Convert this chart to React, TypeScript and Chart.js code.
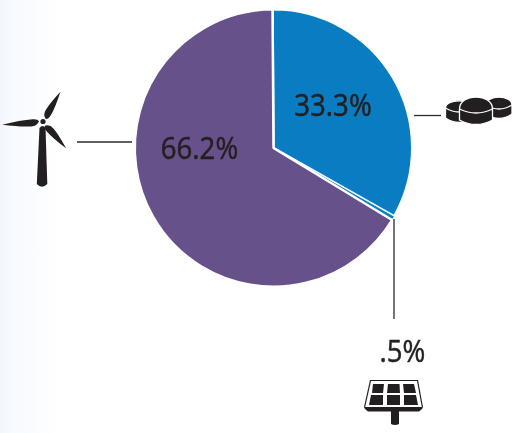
import React, { useEffect, useRef } from "react";
import { Chart, registerables } from "chart.js";

Chart.register(...registerables);

const categories = ["Hydro", "Solar", "Wind"];
const shares = [33.3, 0.5, 66.2];
const shareLabels = ["33.3%", ".5%", "66.2%"];
const colors = ["#0a7cc2", "#0a80c4", "#67518b"];

const FONT = '31px "Open Sans", sans-serif';
const INK = "#231f20";

function line(c: CanvasRenderingContext2D, x1: number, y1: number, x2: number, y2: number) {
  c.strokeStyle = "#2c2a2b";
  c.lineWidth = 1.3;
  c.beginPath();
  c.moveTo(x1, y1);
  c.lineTo(x2, y2);
  c.stroke();
}

function label(c: CanvasRenderingContext2D, text: string, cx: number, baseline: number) {
  c.save();
  c.translate(cx, baseline);
  c.scale(0.89, 1);
  c.fillStyle = INK;
  c.strokeStyle = INK;
  c.lineWidth = 0.5;
  c.font = FONT;
  c.textAlign = "center";
  c.textBaseline = "alphabetic";
  c.fillText(text, 0, 0);
  c.strokeText(text, 0, 0);
  c.restore();
}

function blade(c: CanvasRenderingContext2D, angle: number, len: number) {
  c.save();
  c.translate(43, 122);
  c.rotate(angle);
  c.beginPath();
  c.moveTo(4, 1);
  c.quadraticCurveTo(6, -3.8, 12, -3.6);
  c.quadraticCurveTo(len * 0.55, -3.6, len, 0);
  c.quadraticCurveTo(len * 0.55, 3.4, 10, 3.4);
  c.quadraticCurveTo(5, 3.4, 4, 1);
  c.closePath();
  c.fill();
  c.restore();
}

function turbine(c: CanvasRenderingContext2D) {
  c.fillStyle = INK;
  blade(c, Math.PI - 0.07, 41);
  blade(c, -1.05, 35);
  blade(c, 0.85, 35);
  c.beginPath();
  c.arc(43, 121.5, 2.6, 0, Math.PI * 2);
  c.fill();
  c.beginPath();
  c.moveTo(39.5, 128);
  c.quadraticCurveTo(42.5, 124, 45.5, 128);
  c.lineTo(47.3, 184);
  c.quadraticCurveTo(42, 189.5, 36.8, 184);
  c.closePath();
  c.fill();
}

function stone(c: CanvasRenderingContext2D, cx: number, cy: number, rx: number, ry: number, h: number) {
  c.beginPath();
  c.moveTo(cx - rx, cy);
  c.bezierCurveTo(cx - rx, cy - ry * 1.6, cx + rx, cy - ry * 1.6, cx + rx, cy);
  c.lineTo(cx + rx, cy + h);
  c.quadraticCurveTo(cx, cy + h + 9, cx - rx, cy + h);
  c.closePath();
  c.fillStyle = INK;
  c.strokeStyle = "#fff";
  c.lineWidth = 1.3;
  c.fill();
  c.stroke();
  c.beginPath();
  c.moveTo(cx - rx, cy);
  c.quadraticCurveTo(cx, cy + 8, cx + rx, cy);
  c.stroke();
}

function stones(c: CanvasRenderingContext2D) {
  stone(c, 459, 108, 13.5, 6, 10);
  stone(c, 499, 105, 13, 6.5, 9);
  stone(c, 476, 109, 16.5, 10, 11);
}

function panel(c: CanvasRenderingContext2D) {
  c.fillStyle = INK;
  c.beginPath();
  c.moveTo(370, 380);
  c.lineTo(418, 380);
  c.lineTo(423, 407);
  c.lineTo(422, 409);
  c.lineTo(419, 411.5);
  c.lineTo(368, 411.5);
  c.lineTo(365, 409);
  c.lineTo(364, 407);
  c.closePath();
  c.fill();
  c.beginPath();
  c.moveTo(391, 411);
  c.lineTo(399, 411);
  c.lineTo(399, 424);
  c.quadraticCurveTo(395, 426, 391, 424);
  c.closePath();
  c.fill();
  c.fillStyle = "#fff";
  c.beginPath();
  c.moveTo(371, 381);
  c.lineTo(417, 381);
  c.lineTo(421.8, 407);
  c.lineTo(365.2, 407);
  c.closePath();
  c.fill();
  c.fillStyle = INK;
  const cells: number[][] = [
    [373, 384, 384, 384, 383, 393, 372, 393],
    [388, 384, 399.5, 384, 400, 393, 387, 393],
    [403, 384, 414, 384, 416, 393, 404, 393],
    [371, 395, 383, 395, 383, 405, 369, 405],
    [387, 395, 400, 395, 400, 405, 387, 405],
    [404, 395, 416, 395, 418, 405, 404, 405],
  ];
  cells.forEach((p) => {
    c.beginPath();
    c.moveTo(p[0], p[1]);
    c.lineTo(p[2], p[3]);
    c.lineTo(p[4], p[5]);
    c.lineTo(p[6], p[7]);
    c.closePath();
    c.fill();
  });
}

const decorations = {
  id: "decorations",
  afterDraw(chart: Chart) {
    const c = chart.ctx;
    c.save();
    line(c, 77, 142, 132, 142);
    line(c, 414, 115.5, 441, 115.5);
    line(c, 394, 219, 394, 319);
    label(c, shareLabels[0], 333, 116);
    label(c, shareLabels[2], 199.5, 159);
    label(c, shareLabels[1], 402.5, 362);
    turbine(c);
    stones(c);
    panel(c);
    c.restore();
  },
};

export default function App() {
  const ref = useRef<HTMLCanvasElement>(null);
  useEffect(() => {
    const chart = new Chart(ref.current!, {
      type: "pie",
      data: {
        labels: categories,
        datasets: [{ data: shares, backgroundColor: colors, borderColor: "#ffffff", borderWidth: [2.5, 0.8, 2.5] }],
      },
      options: {
        animation: false,
        responsive: false,
        rotation: -0.4,
        layout: { padding: { left: 133, right: 100, top: 8, bottom: 145 } },
        plugins: { legend: { display: false }, tooltip: { enabled: false } },
      },
      plugins: [decorations],
    });
    return () => chart.destroy();
  }, []);
  return (
    <div
      style={{
        position: "fixed",
        left: 0,
        top: 0,
        width: 514,
        height: 433,
        background: "linear-gradient(to right, #f2f6fb 0px, #f7fafe 12px, #fbfdff 40px, #ffffff 60px)",
      }}
    >
      <canvas ref={ref} width={514} height={433} style={{ display: "block" }} />
    </div>
  );
}
